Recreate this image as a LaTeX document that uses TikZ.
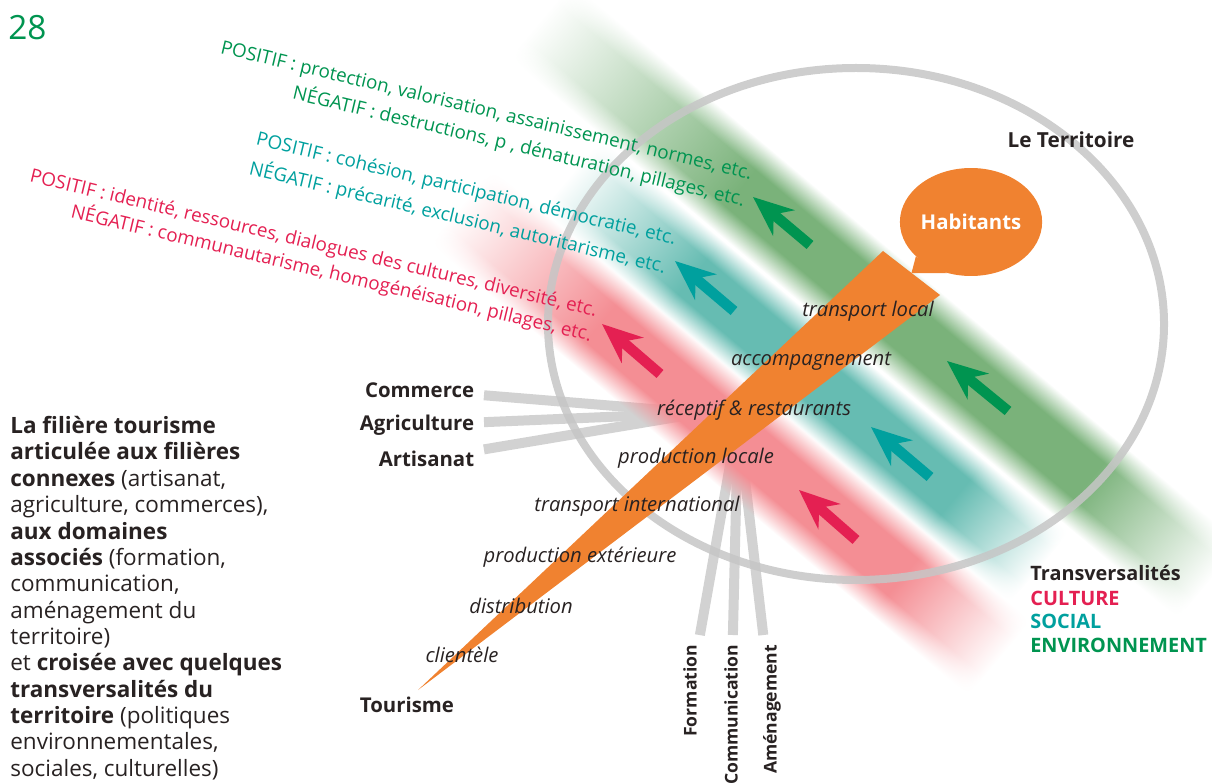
\documentclass[tikz,border=0pt]{standalone}
\usepackage{fontspec}
\setmainfont{Open Sans}
\usetikzlibrary{arrows.meta,shapes,fadings,calc}

\definecolor{orangeT}{RGB}{240,130,48}
\definecolor{envgreen}{RGB}{0,148,80}
\definecolor{socteal}{RGB}{0,160,158}
\definecolor{culred}{RGB}{228,32,82}
\definecolor{bandgreen}{RGB}{122,178,122}
\definecolor{bandteal}{RGB}{102,188,178}
\definecolor{bandred}{RGB}{244,142,148}
\definecolor{spokegray}{RGB}{210,210,210}
\definecolor{rimgray}{RGB}{198,198,198}
\definecolor{ink}{RGB}{40,34,34}

\pgfdeclarehorizontalshading{greenlen}{100bp}{color(0bp)=(white); color(25bp)=(white); color(40bp)=(bandgreen); color(66bp)=(bandgreen); color(75bp)=(white); color(100bp)=(white)}
\pgfdeclarehorizontalshading{teallen}{100bp}{color(0bp)=(white); color(25bp)=(white); color(38bp)=(bandteal); color(66bp)=(bandteal); color(75bp)=(white); color(100bp)=(white)}
\pgfdeclarehorizontalshading{redlen}{100bp}{color(0bp)=(white); color(25bp)=(white); color(38bp)=(bandred); color(66bp)=(bandred); color(75bp)=(white); color(100bp)=(white)}
\pgfdeclareverticalshading{bandprofile}{100bp}{color(0bp)=(black); color(25bp)=(black); color(38bp)=(white); color(62bp)=(white); color(75bp)=(black); color(100bp)=(black)}
\pgfdeclarefading{bandwidth}{\pgfuseshading{bandprofile}}

\begin{document}
\begin{tikzpicture}[x=0.02cm,y=-0.02cm,>={Stealth[length=0.8cm,width=0.66cm,inset=0.26cm]},
    sector/.style={font=\bfseries\fontsize{11.6}{14}\selectfont,text=ink,inner sep=2pt},
    axe/.style={sector,font=\bfseries\fontsize{10}{12}\selectfont,rotate=90,anchor=east},
    tag/.style={font=\itshape\fontsize{11.5}{13}\selectfont,text=ink,inner sep=0pt},
    remark/.style={font=\fontsize{10.7}{12}\selectfont,text=#1,rotate=-13.4,anchor=east,inner sep=0pt},
    legend/.style={font=\bfseries\fontsize{11.3}{13}\selectfont,text=#1,anchor=west,inner sep=0pt},
    spoke/.style={draw=spokegray,line width=0.2cm,shorten <=0.12cm},
    flow/.style={->,draw=#1,line width=0.21cm},
    band/.style={path fading=bandwidth,shading=#1}]

      \useasboundingbox (0,0) rectangle (1212,783);

      % filieres connexes et domaines associes
      \node[sector,anchor=east] (commerce) at (478,390) {Commerce};
      \node[sector,anchor=east] (agriculture) at (478,425) {Agriculture};
      \node[sector,anchor=east] (artisanat) at (478,459) {Artisanat};
      \node[axe] (formation) at (690,641) {Formation};
      \node[axe] (communication) at (731,641) {Communication};
      \node[axe] (amenagement) at (772,641) {Aménagement};
      \coordinate (hubL) at (701,413);
      \coordinate (hubB) at (738,420);

      \path[spoke]
      (commerce) edge (hubL)
      (agriculture) edge (hubL)
      (artisanat) edge (hubL)
      (formation) edge (hubB)
      (communication) edge (hubB)
      (amenagement) edge (hubB);

      % transversalites
      \begin{scope}[overlay,transform canvas={shift={(875,301)},rotate=-40}]
        \shade[band=greenlen] (-437,-49) rectangle (437,49);
      \end{scope}
      \begin{scope}[overlay,transform canvas={shift={(805,371)},rotate=-40}]
        \shade[band=teallen] (-306,-47) rectangle (306,47);
      \end{scope}
      \begin{scope}[overlay,transform canvas={shift={(730,432)},rotate=-40}]
        \shade[band=redlen] (-352,-49) rectangle (352,49);
      \end{scope}

      % le territoire
      \draw[rimgray,line width=0.16cm,opacity=0.85] (856,324) ellipse [x radius=308,y radius=256];

      % la filiere tourisme
      \coordinate (tip) at (418,690);
      \coordinate (endA) at (883,251);
      \coordinate (endB) at (940,295);
      \fill[orangeT] (tip) -- (endA) -- (endB) -- cycle;
      \node[ellipse,fill=orangeT,minimum width=2.52cm,minimum height=2.16cm,inner sep=0pt,
        text=white,font=\bfseries\fontsize{11.6}{14}\selectfont] (habitants) at (971,222) {Habitants};
      \fill[orangeT] (habitants.212) -- ($(endA)!0.5!(endB)$) -- (habitants.245) -- cycle;

      \draw[flow=envgreen] (810,245) -- (753,197);
      \draw[flow=envgreen] (1008,411) -- (947,361);
      \draw[flow=socteal] (734,311) -- (675,261);
      \draw[flow=socteal] (930,477) -- (871,427);
      \draw[flow=culred] (660,374) -- (602,324);
      \draw[flow=culred] (856,540) -- (799,490);

      \node[remark=envgreen] (envpos) at (752,175) {POSITIF : protection, valorisation, assainissement, normes, etc.};
      \node[remark=envgreen] (envneg) at (745,200) {NÉGATIF : destructions, p , dénaturation, pillages, etc.};
      \node[remark=socteal] (socpos) at (676,240) {POSITIF : cohésion, participation, démocratie, etc.};
      \node[remark=socteal] (socneg) at (666,267) {NÉGATIF : précarité, exclusion, autoritarisme, etc.};
      \node[remark=culred] (culpos) at (597,312) {POSITIF : identité, ressources, dialogues des cultures, diversité, etc.};
      \node[remark=culred] (culneg) at (592,335) {NÉGATIF : communautarisme, homogénéisation, pillages, etc.};

      \node[tag] (tlocal) at (868,311) {transport local};
      \node[tag] (accomp) at (811,361) {accompagnement};
      \node[tag] (receptif) at (754,410) {réceptif \& restaurants};
      \node[tag] (plocale) at (696,458) {production locale};
      \node[tag] (tinter) at (637,506) {transport international};
      \node[tag] (pext) at (580,557) {production extérieure};
      \node[tag] (distrib) at (521,606) {distribution};
      \node[tag] (client) at (462,655) {clientèle};

      \node[sector] (tourisme) at (407,705) {Tourisme};
      \node[sector,font=\bfseries\fontsize{11.8}{13}\selectfont] (territoire) at (1071,140) {Le Territoire};

      \node[legend=ink] (transv) at (1030,573) {Transversalités};
      \node[legend=culred] (culture) at (1030,598) {CULTURE};
      \node[legend=socteal] (social) at (1030,621) {SOCIAL};
      \node[legend=envgreen] (environnement) at (1030,645) {ENVIRONNEMENT};

      \node[anchor=west,inner sep=0pt,text=envgreen,font=\fontsize{19}{22}\selectfont] (page) at (8,28) {28};

      \node[anchor=north west,inner sep=0pt,align=left,text=ink,font=\fontsize{12.8}{15}\selectfont] (blurb) at (10,416)
      {\textbf{La filière tourisme}\\ \textbf{articulée aux filières}\\ \textbf{connexes} (artisanat,\\
       agriculture, commerces),\\ \textbf{aux domaines}\\ \textbf{associés} (formation,\\ communication,\\
       aménagement du\\ territoire)\\ et \textbf{croisée avec quelques}\\ \textbf{transversalités du}\\
       \textbf{territoire} (politiques\\ environnementales,\\ sociales, culturelles)};

    \end{tikzpicture}
\end{document}
